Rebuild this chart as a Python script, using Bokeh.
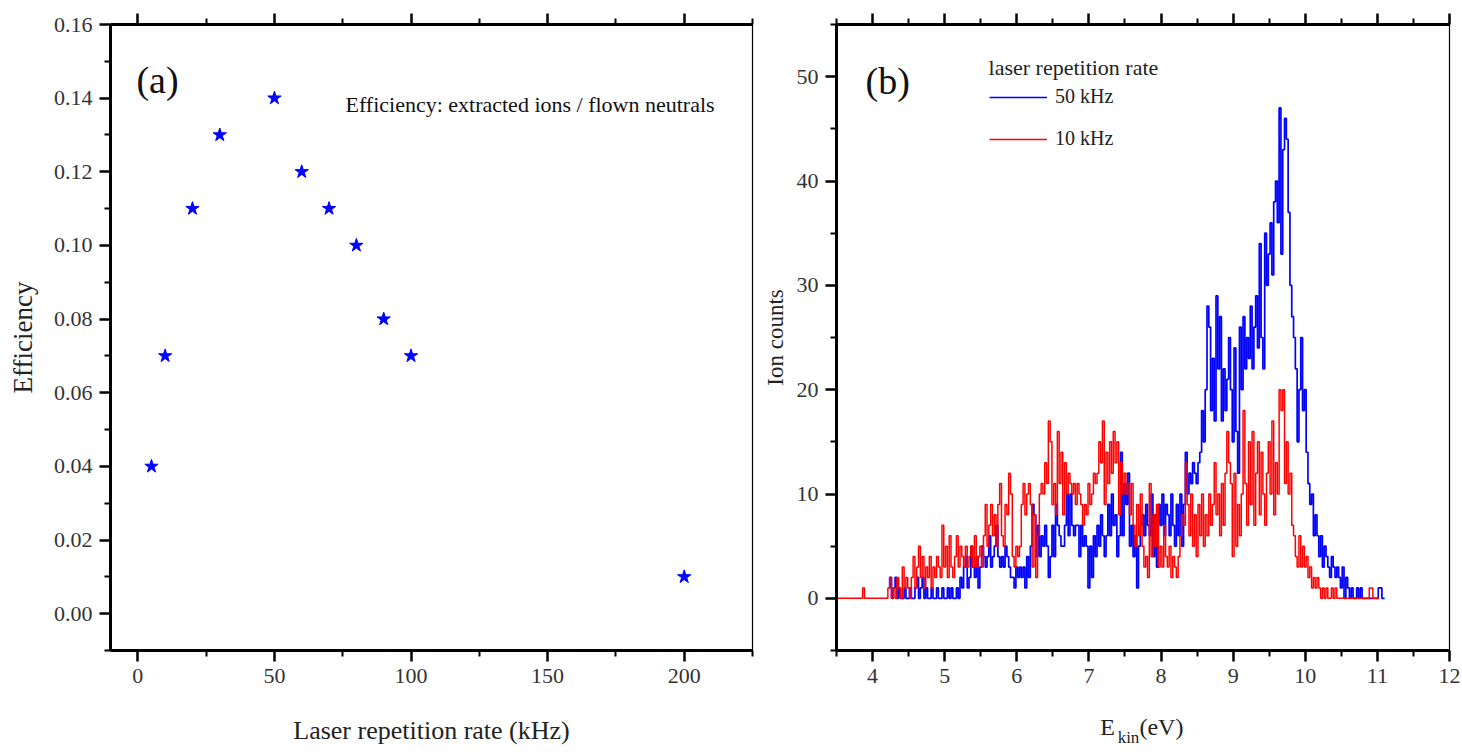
import numpy as np
from bokeh.plotting import figure
from bokeh.models import (LinearAxis, FixedTicker, Range1d, Label, Legend, LegendItem,
                          NumeralTickFormatter)
from bokeh.layouts import row
from bokeh.embed import file_html
from bokeh.resources import INLINE

SERIF = "Liberation Serif"

# ---------------- Panel (a) data ----------------
rep_rate_khz = [5, 10, 20, 30, 50, 60, 70, 80, 90, 100, 200]
efficiency = [0.04, 0.07, 0.11, 0.13, 0.14, 0.12, 0.11, 0.10, 0.08, 0.07, 0.01]
a_y_ticks = [0.00, 0.02, 0.04, 0.06, 0.08, 0.10, 0.12, 0.14, 0.16]
a_y_minor = [-0.01, 0.01, 0.03, 0.05, 0.07, 0.09, 0.11, 0.13, 0.15]
a_x_ticks = [0, 50, 100, 150, 200]
a_x_minor = [25, 75, 125, 175, 225]

# ---------------- Panel (b) data ----------------
bin_step = 0.025
red_start = 3.5     # 10 kHz histogram, first bin centre (eV)
blue_start = 4.225  # 50 kHz histogram, first bin centre (eV)

red_counts = [
    0, 0, 0, 0, 0, 0, 0, 0, 0, 0,
    0, 0, 0, 0, 0, 1, 0, 0, 0, 0,
    0, 0, 0, 0, 0, 0, 0, 0, 0, 1,
    2, 0, 1, 0, 2, 1, 0, 3, 1, 2,
    1, 0, 2, 4, 1, 3, 5, 2, 4, 1,
    3, 2, 4, 1, 3, 2, 4, 3, 2, 7,
    3, 5, 2, 6, 3, 2, 4, 6, 3, 5,
    4, 3, 5, 3, 4, 5, 3, 6, 3, 4,
    5, 3, 6, 9, 5, 7, 9, 6, 8, 5,
    9, 11, 6, 5, 9, 8, 12, 10, 4, 3,
    5, 4, 5, 9, 11, 8, 10, 11, 9, 3,
    8, 2, 6, 10, 11, 10, 13, 11, 17, 15,
    9, 11, 8, 16, 11, 14, 8, 13, 10, 12,
    11, 10, 11, 9, 11, 10, 9, 7, 9, 8,
    11, 9, 10, 12, 11, 12, 15, 13, 17, 9,
    14, 11, 15, 12, 16, 13, 15, 8, 13, 10,
    12, 10, 11, 8, 11, 7, 5, 9, 6, 10,
    5, 3, 4, 2, 11, 4, 8, 5, 9, 3,
    5, 3, 7, 4, 3, 5, 2, 4, 3, 2,
    4, 6, 8, 7, 13, 9, 6, 10, 5, 8,
    4, 9, 6, 10, 5, 8, 6, 10, 7, 9,
    13, 8, 10, 6, 11, 7, 12, 16, 13, 11,
    4, 12, 5, 9, 6, 10, 18, 11, 7, 15,
    9, 16, 7, 12, 15, 8, 14, 10, 7, 12,
    15, 10, 17, 8, 13, 10, 20, 18, 20, 11,
    15, 10, 12, 7, 6, 4, 3, 6, 3, 5,
    3, 4, 2, 3, 1, 2, 1, 2, 1, 0,
    1, 0, 1, 0, 0, 1, 0, 1, 0, 0,
    0, 0, 0, 0, 0, 0, 0, 0, 0, 0,
    0, 0, 0, 0, 0, 0, 1, 1, 0, 0,
    0, 0,
]

blue_counts = [
    1,
    2, 0, 1, 2, 0, 1, 0, 0, 1, 0,
    0, 1, 0, 0, 1, 2, 0, 1, 2, 0,
    1, 0, 0, 1, 0, 0, 1, 0, 0, 1,
    0, 0, 1, 0, 1, 0, 0, 1, 0, 2,
    1, 3, 4, 1, 2, 5, 3, 2, 4, 1,
    3, 5, 4, 3, 4, 6, 3, 4, 5, 7,
    4, 3, 4, 3, 5, 4, 3, 2, 2, 1,
    3, 2, 3, 2, 3, 1, 4, 2, 5, 9,
    8, 4, 7, 4, 6, 5, 7, 5, 2, 4,
    7, 4, 9, 7, 6, 5, 5, 7, 10, 6,
    10, 7, 6, 7, 7, 4, 7, 5, 6, 5,
    1, 5, 2, 6, 4, 7, 5, 8, 6, 4,
    6, 9, 6, 10, 7, 8, 4, 6, 14, 6,
    11, 9, 12, 5, 7, 4, 6, 1, 5, 7,
    8, 6, 9, 7, 6, 10, 4, 8, 3, 9,
    7, 10, 6, 9, 8, 6, 10, 7, 5, 9,
    6, 10, 5, 9, 14, 10, 12, 11, 13, 12,
    11, 13, 14, 18, 15, 20, 28, 26, 18, 23,
    17, 29, 22, 27, 17, 22, 18, 21, 25, 20,
    15, 24, 16, 12, 26, 20, 27, 22, 25, 23,
    28, 22, 26, 29, 24, 34, 25, 22, 35, 30,
    33, 36, 31, 38, 40, 36, 47, 33, 43, 46,
    44, 37, 30, 27, 25, 22, 15, 20, 25, 18,
    20, 14, 11, 9, 10, 6, 8, 6, 4, 6,
    3, 5, 4, 3, 2, 4, 3, 2, 3, 2,
    1, 3, 0, 2, 1, 0, 1, 0, 0, 1,
    0, 1, 0, 0, 0, 0, 0, 0, 0, 0,
    0, 1, 1, 0, 0,
]

red_energy = red_start + bin_step * np.arange(len(red_counts))
blue_energy = blue_start + bin_step * np.arange(len(blue_counts))

b_x_ticks = [4, 5, 6, 7, 8, 9, 10, 11, 12]
b_x_minor = [3.5, 4.5, 5.5, 6.5, 7.5, 8.5, 9.5, 10.5, 11.5]
b_y_ticks = [0, 10, 20, 30, 40, 50]
b_y_minor = [-5, 5, 15, 25, 35, 45, 55]

# x-axis title of panel (b): "E" + subscript "kin" + "(eV)" (text anchors in eV)
ekin_main = {7.258: "E", 8.006: "(eV)"}
ekin_sub = {7.549: "kin"}


def style_axis(ax, ticks, minor, labels=True):
    ax.ticker = FixedTicker(ticks=ticks, minor_ticks=minor)
    ax.axis_line_width = 3
    ax.axis_line_color = "black"
    ax.major_tick_line_width = 2.5
    ax.minor_tick_line_width = 2
    ax.major_tick_line_color = "black"
    ax.minor_tick_line_color = "black"
    ax.major_tick_out = 11
    ax.major_tick_in = 0
    ax.minor_tick_out = 6
    ax.minor_tick_in = 0
    ax.major_label_text_font = SERIF
    if labels:
        ax.major_label_text_color = "#333333"
        ax.major_label_text_font_size = "22px"
        ax.major_label_standoff = 7
    else:
        ax.major_label_text_color = None
        ax.major_label_text_font_size = "1px"
        ax.major_label_standoff = 0
        ax.axis_label = None


def text_axis(labels, font_size, standoff):
    ax = LinearAxis(ticker=FixedTicker(ticks=list(labels.keys()), minor_ticks=[]),
                    major_label_overrides=dict(labels))
    ax.axis_line_color = None
    ax.major_tick_line_color = None
    ax.minor_tick_line_color = None
    ax.major_tick_out = 0
    ax.major_tick_in = 0
    ax.minor_tick_out = 0
    ax.minor_tick_in = 0
    ax.major_label_text_font = SERIF
    ax.major_label_text_font_size = font_size
    ax.major_label_text_color = "#222222"
    ax.major_label_standoff = standoff
    return ax


def base_fig(width, xr, yr, left, right):
    p = figure(width=width, height=754, x_range=Range1d(*xr), y_range=Range1d(*yr),
               output_backend="svg", toolbar_location=None,
               min_border_left=left, min_border_right=right,
               min_border_top=24, min_border_bottom=104)
    p.xgrid.visible = False
    p.ygrid.visible = False
    p.outline_line_color = "black"
    p.outline_line_width = 1.2
    p.background_fill_color = "white"
    p.border_fill_color = "white"
    return p


# ---------------- Panel (a) ----------------
pa = base_fig(754, (-10, 225), (-0.01, 0.16), 110, 2)
bottom_a = pa.xaxis[0]
left_a = pa.yaxis[0]
style_axis(bottom_a, a_x_ticks, a_x_minor)
style_axis(left_a, a_y_ticks, a_y_minor)
left_a.formatter = NumeralTickFormatter(format="0.00")
top_a = LinearAxis()
style_axis(top_a, a_x_ticks, a_x_minor, labels=False)
pa.add_layout(top_a, "above")

bottom_a.axis_label = "Laser repetition rate (kHz)"
left_a.axis_label = "Efficiency"
for ax, fs, so in ((bottom_a, "26px", 30), (left_a, "27px", 13)):
    ax.axis_label_text_font = SERIF
    ax.axis_label_text_font_size = fs
    ax.axis_label_text_font_style = "normal"
    ax.axis_label_text_color = "#222222"
    ax.axis_label_standoff = so

pa.scatter(rep_rate_khz, efficiency, marker="star", size=14,
           fill_color="#0000ff", line_color="#0000ff")

pa.add_layout(Label(x=-0.5, y=0.1448, text="(a)", text_font=SERIF, text_font_size="38px",
                    text_baseline="alphabetic", text_color="#111111"))
pa.add_layout(Label(x=76, y=0.1383, text="Efficiency: extracted ions / flown neutrals",
                    text_font=SERIF, text_font_size="22px", text_baseline="alphabetic",
                    text_color="#111111"))

# ---------------- Panel (b) ----------------
pb = base_fig(708, (3.5, 12), (-5, 55), 82, 13)
bottom_b = pb.xaxis[0]
left_b = pb.yaxis[0]
style_axis(bottom_b, b_x_ticks, b_x_minor)
style_axis(left_b, b_y_ticks, b_y_minor)
bottom_b.axis_label = None
top_b = LinearAxis()
style_axis(top_b, b_x_ticks, b_x_minor, labels=False)
pb.add_layout(top_b, "above")
pb.add_layout(text_axis(ekin_main, "24px", 28), "below")
pb.add_layout(text_axis(ekin_sub, "17px", -15), "below")

left_b.axis_label = "Ion counts"
left_b.axis_label_text_font = SERIF
left_b.axis_label_text_font_size = "23px"
left_b.axis_label_text_font_style = "normal"
left_b.axis_label_text_color = "#222222"
left_b.axis_label_standoff = 6

rb = pb.step(blue_energy, blue_counts, mode="center", line_color="#0000ff", line_width=1.7)
rr = pb.step(red_energy, red_counts, mode="center", line_color="#ff0000", line_width=1.5)

legend = Legend(items=[LegendItem(label="50 kHz", renderers=[rb]),
                       LegendItem(label="10 kHz", renderers=[rr])],
                location=(153, 500), border_line_color=None, background_fill_alpha=0,
                padding=0, margin=0, spacing=19, glyph_width=58, glyph_height=20,
                label_height=20, label_standoff=8, label_text_font=SERIF,
                label_text_font_size="20px", label_text_color="#222222")
pb.add_layout(legend)

pb.add_layout(Label(x=5.608, y=50.88, text="laser repetition rate", text_font=SERIF,
                    text_font_size="22px", text_baseline="alphabetic", text_color="#222222"))
pb.add_layout(Label(x=3.902, y=49.63, text="(b)", text_font=SERIF, text_font_size="38px",
                    text_baseline="alphabetic", text_color="#111111"))

layout = row(pa, pb)
open("out.html", "w").write(file_html(layout, INLINE))
